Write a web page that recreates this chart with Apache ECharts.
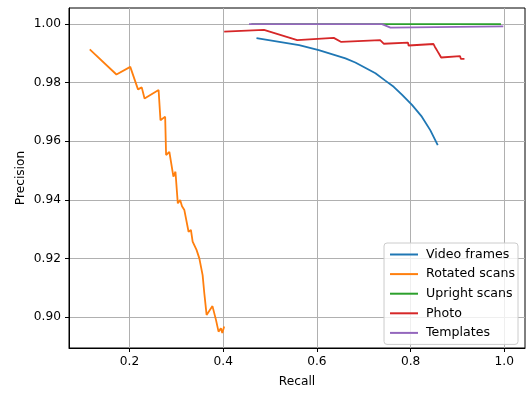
<!DOCTYPE html>
<html>
<head>
<meta charset="utf-8">
<script src="https://cdn.jsdelivr.net/npm/echarts@6/dist/echarts.min.js"></script>
<style>
  html, body { margin: 0; padding: 0; background: #fff; }
  #chart { width: 526px; height: 394px; }
</style>
</head>
<body>
<div id="chart"></div>
<script>
// recall / precision pairs
var videoRecall = [0.471, 0.562, 0.604, 0.661, 0.682, 0.725, 0.746, 0.764, 0.782, 0.803, 0.824, 0.842, 0.858];
var videoPrec   = [0.9952, 0.9928, 0.9911, 0.9883, 0.9869, 0.9832, 0.9807, 0.9786, 0.9758, 0.9724, 0.9684, 0.9638, 0.9587];

var rotRecall = [0.115, 0.172, 0.2015, 0.218, 0.226, 0.232, 0.262, 0.266, 0.276, 0.278, 0.285, 0.2936, 0.298, 0.303, 0.308, 0.312, 0.317, 0.3206, 0.326, 0.331, 0.3347, 0.338, 0.343, 0.347, 0.349, 0.352, 0.356, 0.3596, 0.3645, 0.377, 0.3845, 0.390, 0.395, 0.398, 0.402];
var rotPrec   = [0.9914, 0.9828, 0.9854, 0.9777, 0.9784, 0.9746, 0.9775, 0.9672, 0.9684, 0.9553, 0.9564, 0.9479, 0.9496, 0.9388, 0.9399, 0.9378, 0.9365, 0.9360, 0.9291, 0.9297, 0.9257, 0.9260, 0.9229, 0.9234, 0.9200, 0.9203, 0.9143, 0.9081, 0.9007, 0.9037, 0.8990, 0.8950, 0.8961, 0.8945, 0.8967];

var uprightRecall = [0.46, 0.739, 0.993];
var uprightPrec   = [1.0, 1.0, 1.0];

var photoRecall = [0.402, 0.487, 0.558, 0.636, 0.652, 0.735, 0.7426, 0.7945, 0.7957, 0.849, 0.852, 0.855, 0.858, 0.861, 0.8653, 0.9055, 0.9075, 0.915];
var photoPrec   = [0.9974, 0.9980, 0.9945, 0.9953, 0.9939, 0.9945, 0.9933, 0.9937, 0.9927, 0.9932, 0.9922, 0.9914, 0.9906, 0.9898, 0.9886, 0.9891, 0.9881, 0.9881];

var templRecall = [0.455, 0.739, 0.757, 0.998];
var templPrec   = [1.0, 1.0, 0.9988, 0.9992];

var xTicks = [0.2, 0.4, 0.6, 0.8, 1.0];
var yTicks = [0.90, 0.92, 0.94, 0.96, 0.98, 1.00];

function pairs(xs, ys) {
  var out = [];
  for (var i = 0; i < xs.length; i++) out.push([xs[i], ys[i]]);
  return out;
}

var font = 'DejaVu Sans';
var fs = 12.2;
var myChart = echarts.init(document.getElementById('chart'), null, { renderer: 'canvas' });

function lineSeries(name, color, data) {
  return {
    name: name,
    type: 'line',
    data: data,
    symbol: 'none',
    animation: false,
    lineStyle: { color: color, width: 1.8 },
    itemStyle: { color: color }
  };
}

var option = {
  animation: false,
  backgroundColor: '#fff',
  grid: {
    left: 69, right: 1, top: 8, bottom: 46,
    show: true, borderColor: '#000', borderWidth: 1, backgroundColor: 'transparent'
  },
  legend: {
    orient: 'vertical',
    right: 8,
    top: 243,
    padding: [5, 3, 5, 5],
    itemWidth: 28,
    itemHeight: 12,
    itemGap: 6.6,
    backgroundColor: 'rgba(255,255,255,0.8)',
    borderColor: '#cccccc',
    borderWidth: 1,
    borderRadius: 3,
    itemStyle: { opacity: 0 },
    textStyle: { fontFamily: font, fontSize: 12.6, color: '#000', padding: [0, 2, 0, 3] },
    data: ['Video frames', 'Rotated scans', 'Upright scans', 'Photo', 'Templates']
  },
  xAxis: {
    type: 'value',
    min: 0.0707,
    max: 1.0443,
    name: 'Recall',
    nameLocation: 'middle',
    nameGap: 28,
    nameMoveOverlap: false,
    nameTextStyle: { fontFamily: font, fontSize: fs, color: '#000' },
    axisLine: { show: true, onZero: false, lineStyle: { color: '#000', width: 1 } },
    axisTick: { show: true, inside: false, length: 4, customValues: xTicks, lineStyle: { color: '#000' } },
    axisLabel: {
      customValues: xTicks, margin: 8,
      fontFamily: font, fontSize: fs, color: '#000',
      formatter: function (v) { return v.toFixed(1); }
    },
    splitLine: { show: true, lineStyle: { color: '#b0b0b0', width: 1 } }
  },
  yAxis: {
    type: 'value',
    min: 0.8894,
    max: 1.0055,
    name: 'Precision',
    nameLocation: 'middle',
    nameGap: 42,
    nameMoveOverlap: false,
    nameTextStyle: { fontFamily: font, fontSize: fs, color: '#000' },
    axisLine: { show: true, onZero: false, lineStyle: { color: '#000', width: 1 } },
    axisTick: { show: true, inside: false, length: 4, customValues: yTicks, lineStyle: { color: '#000' } },
    axisLabel: {
      customValues: yTicks, margin: 8,
      fontFamily: font, fontSize: fs, color: '#000',
      formatter: function (v) { return v.toFixed(2); }
    },
    splitLine: { show: true, lineStyle: { color: '#b0b0b0', width: 1 } }
  },
  series: [
    lineSeries('Video frames', '#1f77b4', pairs(videoRecall, videoPrec)),
    lineSeries('Rotated scans', '#ff7f0e', pairs(rotRecall, rotPrec)),
    lineSeries('Upright scans', '#2ca02c', pairs(uprightRecall, uprightPrec)),
    lineSeries('Photo', '#d62728', pairs(photoRecall, photoPrec)),
    lineSeries('Templates', '#9467bd', pairs(templRecall, templPrec))
  ]
};
myChart.setOption(option);
</script>
</body>
</html>
